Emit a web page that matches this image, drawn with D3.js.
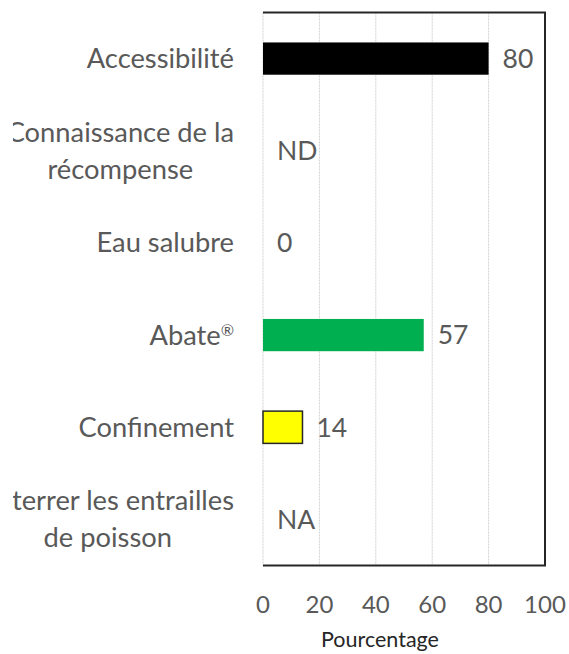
<!DOCTYPE html>
<html><head><meta charset="utf-8">
<script src="https://cdn.jsdelivr.net/npm/d3@7"></script>
<style>html,body{margin:0;padding:0;background:#fff;}</style>
</head><body>
<svg id="chart" width="569" height="654"></svg>
<script>
const categories = ["Accessibilité", "Connaissance de la récompense", "Eau salubre", "Abate®", "Confinement", "Enterrer les entrailles de poisson"];
const categoryLines = [["Accessibilité"], ["Connaissance de la", "récompense"], ["Eau salubre"], ["Abate®"], ["Confinement"], ["Enterrer les entrailles", "de poisson"]];
const values = [80, 0, 0, 57, 14, 0];
const valueLabels = ["80", "ND", "0", "57", "14", "NA"];
const barColors = ["#000000", "none", "none", "#00B050", "#FFFF00", "none"];
const barStrokes = ["none", "none", "none", "none", "#262626", "none"];
const xTicks = [0, 20, 40, 60, 80, 100];
const xTitle = "Pourcentage";

const svg = d3.select("#chart");
const m = {left: 263, right: 545, top: 12.5, bottom: 565.5};
const x = d3.scaleLinear().domain([0, 100]).range([m.left, m.right]);
const y = d3.scaleBand().domain(categories).range([m.top, m.bottom]).paddingInner(0.65).paddingOuter(0.325);
const font = "Lato, 'Open Sans', sans-serif";

// gridlines
svg.append("g").selectAll("line").data(xTicks).join("line")
  .attr("x1", d => x(d)).attr("x2", d => x(d))
  .attr("y1", m.top).attr("y2", m.bottom)
  .attr("stroke", "#d0d0d0").attr("stroke-width", 1).attr("stroke-dasharray", "2,1");

// bars
svg.append("g").selectAll("rect").data(categories).join("rect")
  .attr("x", x(0))
  .attr("y", d => y(d))
  .attr("width", (d, i) => x(values[i]) - x(0))
  .attr("height", y.bandwidth())
  .attr("fill", (d, i) => barColors[i])
  .attr("stroke", (d, i) => barStrokes[i])
  .attr("stroke-width", 1.5);

// border top/right/bottom
svg.append("path")
  .attr("d", `M${m.left},${m.top}H${m.right}V${m.bottom}H${m.left}`)
  .attr("fill", "none").attr("stroke", "#262626").attr("stroke-width", 2);

// value labels
svg.append("g").selectAll("text").data(categories).join("text")
  .attr("x", (d, i) => x(values[i]) + 14)
  .attr("y", d => y(d) + y.bandwidth() / 2)
  .attr("dy", "0.35em")
  .attr("font-family", font).attr("font-size", 26.5).attr("fill", "#595959")
  .text((d, i) => valueLabels[i]);

// x tick labels
svg.append("g").selectAll("text").data(xTicks).join("text")
  .attr("x", d => x(d)).attr("y", 605).attr("dy", "0.35em")
  .attr("text-anchor", "middle")
  .attr("font-family", font).attr("font-size", 24).attr("fill", "#595959")
  .text(d => d);

// axis title
svg.append("text").attr("x", 380).attr("y", 647)
  .attr("text-anchor", "middle").attr("font-family", font).attr("font-size", 21.5).attr("fill", "#262626")
  .text(xTitle);

// category labels (clipped at left)
svg.append("defs").append("clipPath").attr("id", "lc").append("rect")
  .attr("x", 13).attr("y", 0).attr("width", 250).attr("height", 600);
const lg = svg.append("g").attr("clip-path", "url(#lc)");
categories.forEach((c, i) => {
  const lines = categoryLines[i];
  const cy = y(c) + y.bandwidth() / 2;
  const g = lg.append("g");
  const texts = lines.map((ln, k) => {
    const t = g.append("text")
      .attr("y", cy + (k - (lines.length - 1) / 2) * 37)
      .attr("dy", "0.35em")
      .attr("text-anchor", "middle")
      .attr("font-family", font).attr("font-size", 27.3).attr("fill", "#595959");
    if (ln.endsWith("®")) {
      t.append("tspan").text(ln.slice(0, -1));
      t.append("tspan").attr("font-size", 16).attr("dy", "-0.55em").text("®");
    } else t.text(ln);
    return t;
  });
  const maxW = d3.max(texts, t => t.node().getComputedTextLength());
  texts.forEach(t => t.attr("x", 234 - maxW / 2));
});
</script>
</body></html>
